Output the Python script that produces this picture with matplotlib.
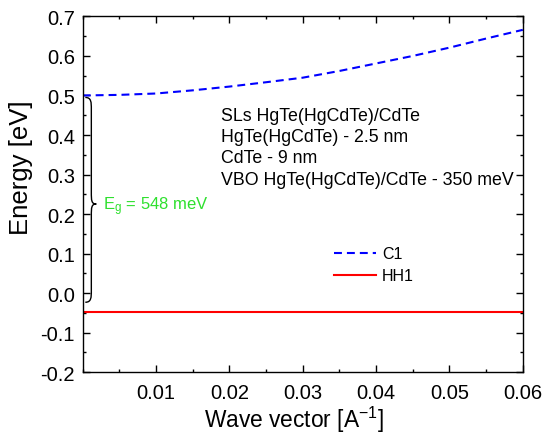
import matplotlib
matplotlib.use('Agg')
import matplotlib.pyplot as plt
from matplotlib.path import Path
from matplotlib.patches import PathPatch
from matplotlib.ticker import MultipleLocator

plt.rcParams['font.family'] = ['Liberation Sans', 'DejaVu Sans']
plt.rcParams['mathtext.fontset'] = 'custom'
plt.rcParams['mathtext.rm'] = 'Liberation Sans'
plt.rcParams['mathtext.it'] = 'Liberation Sans:italic'

# dispersion of the first electron subband (C1) and heavy hole (HH1)
k_c1 = [0.0, 0.005, 0.01, 0.015, 0.02, 0.025, 0.03, 0.035, 0.04, 0.045, 0.05, 0.055, 0.06]
e_c1 = [0.500, 0.5015, 0.505, 0.513, 0.5225, 0.5335, 0.545, 0.562, 0.581, 0.600, 0.621, 0.644, 0.666]
k_hh1 = [0.0, 0.06]
e_hh1 = [-0.048, -0.048]

x_ticks = [0.01, 0.02, 0.03, 0.04, 0.05, 0.06]
y_ticks = [-0.2, -0.1, 0.0, 0.1, 0.2, 0.3, 0.4, 0.5, 0.6, 0.7]

info_lines = [
    'SLs HgTe(HgCdTe)/CdTe',
    'HgTe(HgCdTe) - 2.5 nm',
    'CdTe - 9 nm',
    'VBO HgTe(HgCdTe)/CdTe - 350 meV',
]

fig = plt.figure(figsize=(5.48, 4.35), dpi=100)
ax = fig.add_axes([0.151, 0.142, 0.803, 0.818])

ax.plot(k_c1, e_c1, color='#0000ff', lw=1.5, ls=(0, (3.8, 2.4)), label='C1')
ax.plot(k_hh1, e_hh1, color='#ff0000', lw=1.5, label='HH1')

ax.set_xlim(0, 0.06)
ax.set_ylim(-0.2, 0.7)
ax.set_xticks(x_ticks)
ax.set_xticklabels(['%.2f' % v for v in x_ticks])
ax.set_yticks(y_ticks)
ax.set_yticklabels(['%.1f' % v for v in y_ticks])
ax.xaxis.set_minor_locator(MultipleLocator(0.005))
ax.yaxis.set_minor_locator(MultipleLocator(0.05))
ax.tick_params(which='both', direction='in', top=True, right=True, labelsize=14.5)
ax.tick_params(which='major', length=5, width=1)
ax.tick_params(which='minor', length=2.5, width=1)
ax.tick_params(axis='x', pad=8)
ax.tick_params(axis='y', pad=5.5)
for s in ax.spines.values():
    s.set_linewidth(1.0)

ax.set_xlabel('Wave vector [A$^\\mathregular{-1}$]', fontsize=16.4)
ax.set_ylabel('Energy [eV]', fontsize=18.5)
ax.xaxis.set_label_coords(0.48, -0.089)
ax.yaxis.set_label_coords(-0.113, 0.578)

# text block with structure parameters
for i, line in enumerate(info_lines):
    ax.text(0.0188, 0.4386 - i * 0.0539, line, fontsize=12.8, va='baseline', ha='left')

# curly brace spanning the gap between HH1 and C1
gap = e_c1[0] - e_hh1[0]
top = e_c1[0] - 0.005
bot = e_hh1[0] + 0.025
mid = 0.2255
x0, x1, x2 = 0.00035, 0.00117, 0.00185
r = 0.03
verts = [
    (x0, top), (x1, top), (x1, top - r * 0.4), (x1, top - r),
    (x1, mid + r), (x1, mid + r * 0.3), (x1, mid), (x2, mid),
    (x1, mid), (x1, mid - r * 0.3), (x1, mid - r),
    (x1, bot + r), (x1, bot + r * 0.4), (x1, bot), (x0, bot),
]
codes = [Path.MOVETO, Path.CURVE4, Path.CURVE4, Path.CURVE4,
         Path.LINETO, Path.CURVE4, Path.CURVE4, Path.CURVE4,
         Path.CURVE4, Path.CURVE4, Path.CURVE4,
         Path.LINETO, Path.CURVE4, Path.CURVE4, Path.CURVE4]
ax.add_patch(PathPatch(Path(verts, codes), fill=False, lw=1.0, ec='black'))

ax.text(0.0028, mid - 0.004, 'E$_\\mathregular{g}$ = %d meV' % round(gap * 1000),
        color='#2ee02e', fontsize=12, va='center', ha='left')

ax.legend(loc='center left', bbox_to_anchor=(0.571, 0.302), frameon=False,
          fontsize=11.5, handlelength=2.6, handletextpad=0.4, borderpad=0,
          labelspacing=0.45, borderaxespad=0)

fig.savefig('out.png', dpi=100)
